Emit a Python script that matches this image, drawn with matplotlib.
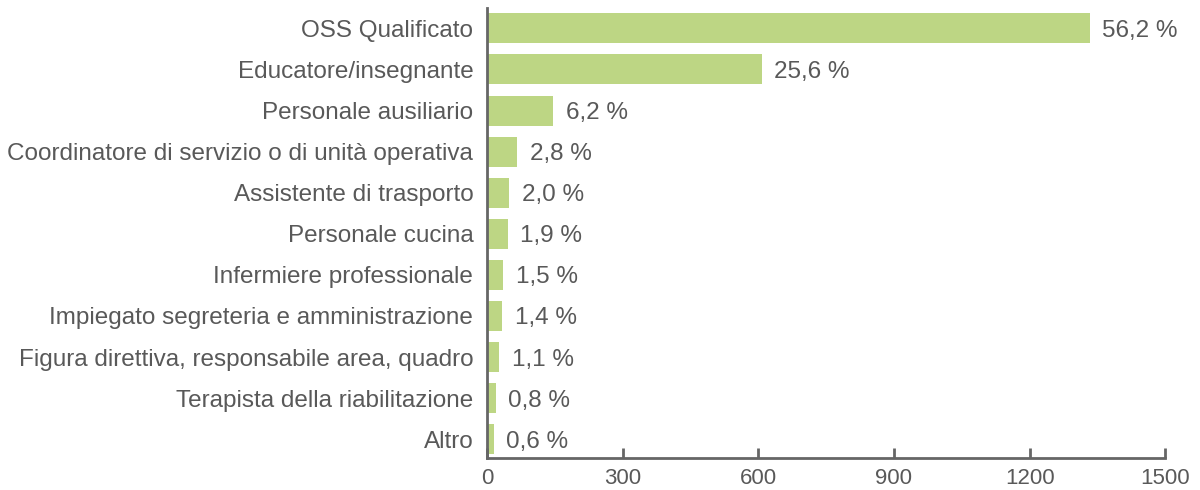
import matplotlib.pyplot as plt
import numpy as np

# categories, top to bottom
categories = [
    "OSS Qualificato",
    "Educatore/insegnante",
    "Personale ausiliario",
    "Coordinatore di servizio o di unità operativa",
    "Assistente di trasporto",
    "Personale cucina",
    "Infermiere professionale",
    "Impiegato segreteria e amministrazione",
    "Figura direttiva, responsabile area, quadro",
    "Terapista della riabilitazione",
    "Altro",
]
counts = [1333, 607, 146, 67, 48, 45, 36, 33, 26, 19, 14]
percents = ["56,2 %", "25,6 %", "6,2 %", "2,8 %", "2,0 %", "1,9 %",
            "1,5 %", "1,4 %", "1,1 %", "0,8 %", "0,6 %"]
xticks = [0, 300, 600, 900, 1200, 1500]

text_col = "#595959"
bar_col = "#bdd684"

plt.rcParams['font.family'] = ['Liberation Sans', 'DejaVu Sans']

fig = plt.figure(figsize=(12, 4.9), dpi=100)
ax = fig.add_axes([0.406, 0.065, 0.565, 0.919])

y = np.arange(len(categories))
ax.barh(y, counts, height=0.73, color=bar_col)

for yi, c, p in zip(y, counts, percents):
    ax.text(c + 28, yi, p, va='center_baseline', ha='left', fontsize=17.5,
            color=text_col)

ax.set_yticks(y)
ax.set_yticklabels(categories, fontsize=17.5, color=text_col,
                   va='center_baseline')
ax.set_ylim(len(categories) - 0.54, -0.5)
ax.set_xlim(0, 1500)
ax.set_xticks(xticks)
ax.set_xticklabels([str(t) for t in xticks], fontsize=16, color=text_col)

ax.tick_params(axis='y', length=0, pad=10)
ax.tick_params(axis='x', direction='in', length=7, width=2, color='#666666', pad=7)

for s in ['top', 'right']:
    ax.spines[s].set_visible(False)
for s in ['left', 'bottom']:
    ax.spines[s].set_color('#666666')
    ax.spines[s].set_linewidth(2)

plt.savefig('out.png', dpi=100)
plt.close()
